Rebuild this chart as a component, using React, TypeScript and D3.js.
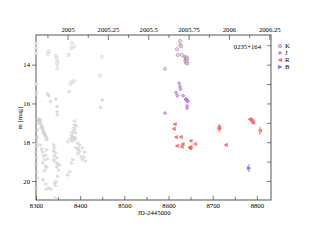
import { useEffect, useRef } from "react";
import * as d3 from "d3";

// grey points: earlier season, [JD-2445000 (offset), mag]
const greyK = [
  [8301, 12.9], [8300.5, 13.14], [8300.5, 13.4], [8329, 13.3], [8327, 13.45],
  [8345, 13.55], [8347, 13.65], [8348, 13.85], [8348, 13.96], [8348, 14.19],
  [8381, 12.88], [8380, 13.14], [8387, 13.07], [8374, 13.5], [8449, 13.59],
  [8445, 14.57], [8380, 14.91], [8386, 14.85], [8378, 15.0], [8301, 15.0],
];
const greyJ = [
  [8326, 15.51], [8329, 15.61], [8333, 15.91], [8345, 15.78], [8348, 16.16],
  [8348, 16.42], [8348, 16.59], [8375, 15.39], [8450, 15.82], [8446, 16.2],
  [8301, 15.42], [8300.5, 15.53],
];
const greyR = [
  [8302, 16.8], [8305, 16.85], [8307, 16.9], [8307, 17.0], [8309, 17.06],
  [8311, 17.16], [8311, 17.26], [8314, 17.31], [8316, 17.42], [8316, 17.52],
  [8318, 17.57], [8320, 17.68], [8323, 17.78], [8323, 17.88], [8302, 17.0],
  [8302, 17.37], [8302, 17.73], [8309, 16.85], [8304, 16.82], [8313, 17.2],
  [8319, 17.62], [8300.5, 17.8], [8300.5, 18.04],
  [8386, 16.9], [8386, 17.1], [8384, 17.26], [8386, 17.37], [8381, 17.47],
  [8388, 17.52], [8379, 17.63], [8384, 17.73], [8388, 17.78], [8377, 17.83],
  [8386, 17.88], [8381, 17.94], [8371, 17.97], [8393, 18.05], [8390, 17.16],
  [8381, 17.73], [8389, 18.28], [8395, 18.31],
];
const greyB = [
  [8301, 18.14], [8302, 18.24], [8300.5, 18.5], [8302, 18.81], [8300.5, 19.17],
  [8302, 19.53], [8304, 19.84], [8300.5, 20.36],
  [8311, 18.14], [8314, 18.35], [8316, 18.5], [8318, 18.71], [8320, 18.91],
  [8316, 19.07], [8323, 19.22], [8325, 18.4], [8323, 18.66], [8327, 18.86],
  [8325, 19.32], [8320, 19.48],
  [8341, 18.14], [8343, 18.29], [8341, 18.45], [8345, 18.55], [8343, 18.71],
  [8348, 18.81], [8341, 18.91], [8345, 19.02], [8350, 19.12], [8348, 19.27],
  [8354, 19.17], [8352, 19.43],
  [8317, 19.94], [8323, 20.16], [8330, 20.37], [8324, 20.42], [8335, 20.42],
  [8343, 20.11], [8345, 20.25], [8347, 20.03], [8345, 20.89], [8350, 19.77],
  [8373, 19.69], [8377, 19.52], [8381, 19.08], [8384, 18.91], [8396, 18.6],
  [8400, 18.48], [8403, 18.74], [8396, 18.4], [8406, 18.91], [8400, 18.14],
  [8406, 18.29], [8411, 18.5], [8409, 18.76], [8413, 18.97],
];

// current season
const kData = [
  [8626, 12.78], [8627, 12.98], [8628, 13.05], [8619, 13.2], [8621, 13.5],
  [8630, 13.5], [8637, 13.59], [8639, 13.65], [8640, 13.73], [8638, 13.81],
  [8640, 13.91], [8641, 13.62], [8642, 13.7], [8641, 13.85], [8643, 13.95],
  [8592, 14.22],
];
const jData = [
  [8624, 14.96], [8626, 15.13], [8627, 15.27], [8617, 15.44], [8620, 15.6],
  [8633, 15.6], [8639, 15.78], [8640, 15.8], [8642, 15.86], [8644, 15.9],
  [8642, 16.13], [8642, 16.25], [8592, 16.5],
];
const rData = [
  [8614, 17.07], [8612, 17.31], [8617, 17.74], [8628, 17.73], [8619, 18.19],
  [8632, 18.09], [8630, 18.23], [8650, 17.93], [8660, 18.09], [8648, 18.28],
  [8649, 18.3], [8650, 18.26], [8714, 17.28], [8715, 17.24], [8730, 18.14],
  [8784, 16.81], [8787, 16.85], [8789, 16.9], [8791, 17.0], [8807, 17.4],
];
const rErr = [
  0.06, 0.05, 0.05, 0.05, 0.06, 0.05, 0.05, 0.05, 0.05, 0.08,
  0.08, 0.08, 0.2, 0.15, 0.06, 0.06, 0.05, 0.05, 0.06, 0.2,
];
const bData = [[8782, 19.34]];
const bErr = [0.2];

const yearTicks = [2005, 2005.25, 2005.5, 2005.75, 2006, 2006.25];
const jdTicks = [8300, 8400, 8500, 8600, 8700, 8800];
const magTicks = [14, 16, 18, 20];
const legendNames = ["K", "J", "R", "B"];

const font = "'Liberation Serif', 'Times New Roman', serif";

const shape = (kind: string, s: number) => {
  if (kind === "K") return `M${s},0A${s},${s} 0 1,1 ${-s},0A${s},${s} 0 1,1 ${s},0Z`;
  if (kind === "J") return `M0,${-s}L${s},0L0,${s}L${-s},0Z`;
  if (kind === "R") return `M${-s},0L${s},${-s}L${s},${s}Z`;
  return `M${s},0L${-s},${-s}L${-s},${s}Z`;
};

const App = () => {
  const ref = useRef<SVGSVGElement>(null);

  useEffect(() => {
    const svg = d3.select(ref.current);
    svg.selectAll("*").remove();

    const left = 36, right = 271, top = 35, bottom = 200;
    const x = d3.scaleLinear().domain([8300, 8832]).range([left, right]);
    const toYear = (jd: number) => 2005 + (jd - 8371.5) / 365.25;
    const xYear = d3.scaleLinear().domain([toYear(8300), toYear(8832)]).range([left, right]);
    const y = d3.scaleLinear().domain([12.47, 20.98]).range([top, bottom]);

    const styleAxis = (g: any) => {
      g.select(".domain").remove();
      g.selectAll("line").attr("stroke", "#444").attr("stroke-width", 0.7);
      g.selectAll("text").attr("font-family", font).attr("font-size", 6.7).attr("fill", "#000");
    };

    // bottom axis
    svg.append("g").attr("transform", `translate(0,${bottom})`)
      .call(d3.axisBottom(x).tickValues(jdTicks).tickSizeInner(-4).tickPadding(3).tickFormat(d3.format("d")))
      .call(styleAxis);
    svg.append("g").attr("transform", `translate(0,${bottom})`)
      .call(d3.axisBottom(x).tickValues([8350, 8450, 8550, 8650, 8750]).tickSizeInner(-3).tickFormat(() => ""))
      .call(styleAxis);

    // top axis (decimal year)
    svg.append("g").attr("transform", `translate(0,${top})`)
      .call(d3.axisTop(xYear).tickValues(yearTicks).tickSizeInner(-5).tickPadding(3).tickFormat((d: any) => String(d)))
      .call(styleAxis);
    svg.append("g").attr("transform", `translate(0,${top})`)
      .call(d3.axisTop(xYear).tickValues([2004.875, 2005.125, 2005.375, 2005.625, 2005.875, 2006.125]).tickSizeInner(-3).tickFormat(() => ""))
      .call(styleAxis);

    // left axis
    svg.append("g").attr("transform", `translate(${left},0)`)
      .call(d3.axisLeft(y).tickValues(magTicks).tickSizeInner(4).tickPadding(2).tickFormat(d3.format("d")))
      .call(styleAxis);
    // right axis
    svg.append("g").attr("transform", `translate(${right},0)`)
      .call(d3.axisRight(y).tickValues([13, 14, 15, 16, 17, 18, 19, 20]).tickSizeInner(-4).tickFormat(() => ""))
      .call(styleAxis);

    svg.append("rect")
      .attr("x", left).attr("y", top).attr("width", right - left).attr("height", bottom - top)
      .attr("fill", "none").attr("stroke", "#444").attr("stroke-width", 0.9);

    const plot = svg.append("g");

    const drawSet = (data: number[][], kind: string, fill: string, stroke: string, op: number, s: number) => {
      plot.append("g").selectAll("path").data(data).join("path")
        .attr("transform", (d) => `translate(${x(d[0])},${y(d[1])})`)
        .attr("d", shape(kind, s))
        .attr("fill", fill).attr("stroke", stroke).attr("stroke-width", 0.6)
        .attr("opacity", op);
    };

    const errBars = (data: number[][], errs: number[], color: string) => {
      plot.append("g").selectAll("line").data(data).join("line")
        .attr("x1", (d) => x(d[0])).attr("x2", (d) => x(d[0]))
        .attr("y1", (d, i) => y(d[1] - errs[i])).attr("y2", (d, i) => y(d[1] + errs[i]))
        .attr("stroke", color).attr("stroke-width", 0.8).attr("opacity", 0.8);
    };

    drawSet(greyK, "K", "#f0f0f0", "#c8c8c8", 0.9, 1.6);
    drawSet(greyJ, "J", "#d8d8d8", "#cacaca", 0.9, 1.6);
    drawSet(greyR, "R", "#d6d6d6", "#c8c8c8", 0.75, 1.5);
    drawSet(greyB, "B", "#d6d6d6", "#c8c8c8", 0.75, 1.5);

    drawSet(kData, "K", "#ead6e6", "#93548a", 0.75, 1.6);
    drawSet(jData, "J", "#c896f0", "#9038d4", 0.8, 1.7);
    errBars(rData, rErr, "#ff2020");
    drawSet(rData, "R", "#ff9090", "#ff3030", 0.85, 1.6);
    errBars(bData, bErr, "#3a3aff");
    drawSet(bData, "B", "#9090ff", "#3a3aff", 0.85, 1.6);

    // object name
    svg.append("text").attr("x", 261).attr("y", 48.5).attr("text-anchor", "end")
      .attr("font-family", font).attr("font-size", 6.7).text("0235+164");

    // legend
    const legStyle: Record<string, string[]> = {
      K: ["#ead6e6", "#93548a"], J: ["#c896f0", "#9038d4"],
      R: ["#ff9090", "#ff3030"], B: ["#9090ff", "#3a3aff"],
    };
    const leg = svg.append("g").selectAll("g").data(legendNames).join("g")
      .attr("transform", (d, i) => `translate(280,${46 + i * 7})`);
    leg.append("path").attr("d", (d) => shape(d, 1.6))
      .attr("fill", (d) => legStyle[d][0]).attr("stroke", (d) => legStyle[d][1]).attr("stroke-width", 0.6);
    leg.append("text").attr("x", 5).attr("y", 2.3)
      .attr("font-family", font).attr("font-size", 6.7).text((d) => d);

    // axis titles
    svg.append("text").attr("x", 154).attr("y", 215).attr("text-anchor", "middle")
      .attr("font-family", font).attr("font-size", 6.7).text("JD-2445000");
    svg.append("text").attr("transform", "translate(22,118) rotate(-90)").attr("text-anchor", "middle")
      .attr("font-family", font).attr("font-size", 6.7).text("m [mag]");
  }, []);

  return (
    <svg ref={ref} width={314} height={243}
      style={{ position: "absolute", left: 0, top: 0, background: "#fff" }} />
  );
};

export default App;
